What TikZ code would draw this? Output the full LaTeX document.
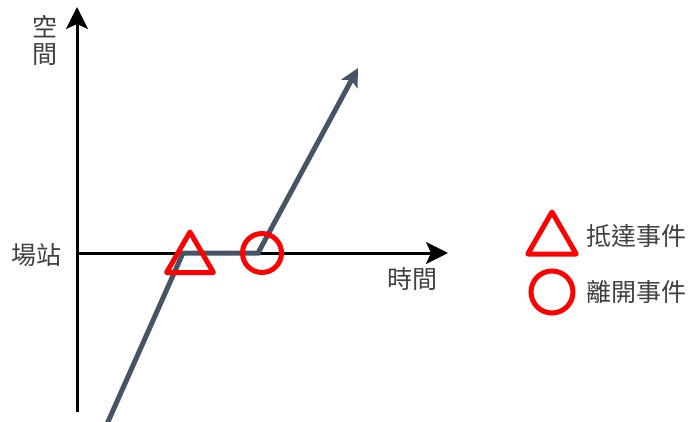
\documentclass[tikz,border=0pt]{standalone}
\usepackage{fontspec}
\setmainfont{Noto Sans CJK TC}
\usetikzlibrary{arrows.meta,shapes.geometric}
\definecolor{pathcol}{HTML}{465466}
\definecolor{txt}{HTML}{404040}
\tikzset{
  axis/.style={line width=3pt,black,-{Stealth[length=22pt,width=22pt,inset=5pt]}},
  route/.style={line width=5pt,pathcol,line join=miter,-{Stealth[length=18pt,width=18pt,inset=4pt]}},
  tri/.style={regular polygon,regular polygon sides=3,draw=red,line width=5pt,minimum size=54pt,inner sep=0pt,line join=round},
  circ/.style={circle,draw=red,line width=5pt,minimum size=39pt,inner sep=0pt},
  lbl/.style={font=\fontsize{25pt}{27pt}\selectfont,text=txt,inner sep=0pt}
}
\begin{document}
\begin{tikzpicture}[x=1pt,y=-1pt]
\useasboundingbox (0,0) rectangle (696,422);
\coordinate (o) at (77,253);
\coordinate (ytop) at (77,7);
\coordinate (ybot) at (77,412);
\coordinate (xend) at (448,253);
\draw[axis] (ybot) -- (ytop);
\draw[axis] (o) -- (xend);
\coordinate (p0) at (107,424);
\coordinate (p1) at (183,253);
\coordinate (p2) at (258,253);
\coordinate (p3) at (358,68);
\draw[route] (p0) -- (p1) -- (p2) -- (p3);
\node[tri] (arr) at (190,259) {};
\node[circ] (dep) at (262,253) {};
\node[lbl,align=center] (space) at (45,40) {空\\[0pt]間};
\node[lbl] (station) at (36,255) {場站};
\node[lbl] (time) at (412,279) {時間};
\node[tri,minimum size=56pt] (ltri) at (552,240) {};
\node[lbl,anchor=west] (ltxt) at (586,236) {抵達事件};
\node[circ,minimum size=42pt] (lcirc) at (552,292) {};
\node[lbl,anchor=west] (lctxt) at (586,292) {離開事件};
\end{tikzpicture}
\end{document}
